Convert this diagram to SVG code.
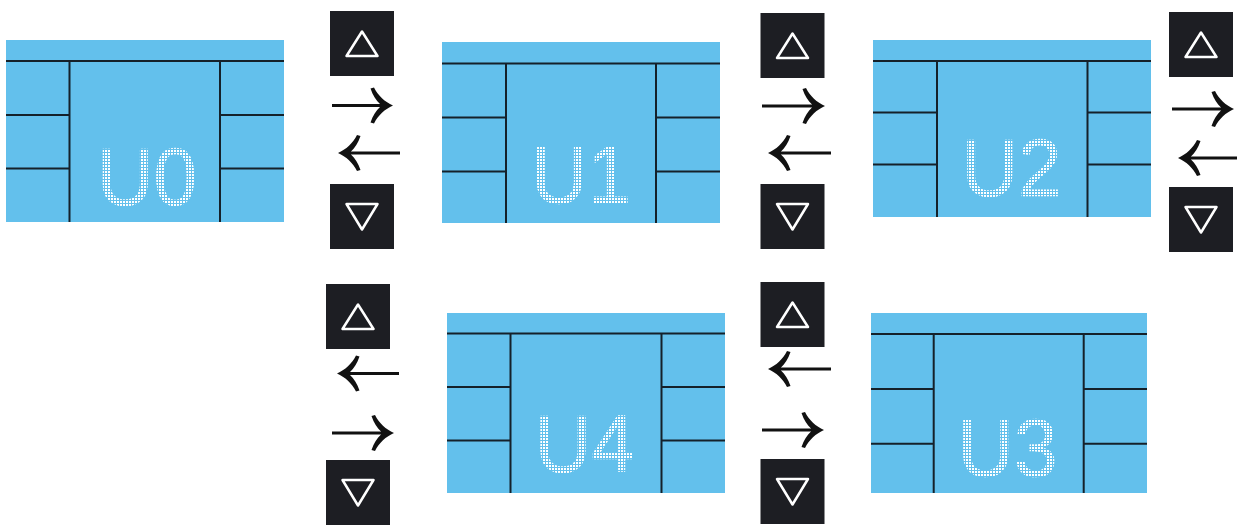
<svg xmlns="http://www.w3.org/2000/svg" xmlns:xlink="http://www.w3.org/1999/xlink" width="1237" height="527" viewBox="0 0 1237 527">
  <style>
    .panel { fill: #63C0EC; }
    .pl { stroke: #15212a; stroke-width: 2; fill: none; }
    .lbl { font-family: "Liberation Sans", Arial, sans-serif; font-size: 82px; fill: url(#dots); stroke: url(#dots); stroke-width: 0.6; text-anchor: middle; }
    .btn { fill: #1d1e23; }
    .tri { fill: none; stroke: #ffffff; stroke-width: 2.5; stroke-linejoin: round; }
    .arr { stroke: #111111; stroke-width: 3; fill: none; marker-end: url(#head); }
  </style>
  <defs>
    <pattern id="dots" x="0" y="0" width="3" height="3" patternUnits="userSpaceOnUse">
      <rect x="0" y="0" width="2" height="2" fill="#ffffff" shape-rendering="crispEdges"/>
    </pattern>
    <marker id="head" viewBox="-23 -19 25 38" refX="-4" refY="0" markerWidth="25" markerHeight="38" markerUnits="userSpaceOnUse" orient="auto">
      <path d="M1,0 C-7,-3.5 -14,-10 -18,-18 L-21.5,-17 C-19,-10 -16,-5 -12,-1.5 L-12,1.5 C-16,5 -19,10 -21.5,17 L-18,18 C-14,10 -7,3.5 1,0 Z" fill="#111111"/>
    </marker>
    <g id="btnUp">
      <rect class="btn" width="64" height="65"/>
      <path class="tri" d="M32,20.5 L16.5,45 L47.5,45 Z"/>
    </g>
    <g id="btnDown">
      <rect class="btn" width="64" height="65"/>
      <path class="tri" d="M16.5,20 L47.5,20 L32,45.5 Z"/>
    </g>
  </defs>

  <rect width="1237" height="527" fill="#ffffff"/>

  <g id="panel-U0">
    <rect class="panel" x="6" y="40" width="278" height="182"/>
    <path class="pl" d="M6,61 H284 M69.5,61 V222 M220,61 V222 M6,115 H69.5 M6,168.5 H69.5 M220,115 H284 M220,168.5 H284"/>
    <text class="lbl" x="147" y="205" textLength="100" lengthAdjust="spacingAndGlyphs">U0</text>
  </g>

  <g id="panel-U1">
    <rect class="panel" x="442" y="42" width="278" height="181"/>
    <path class="pl" d="M442,63.5 H720 M506,63.5 V223 M656,63.5 V223 M442,117.5 H506 M442,171.5 H506 M656,117.5 H720 M656,171.5 H720"/>
    <text class="lbl" x="581" y="203" textLength="100" lengthAdjust="spacingAndGlyphs">U1</text>
  </g>

  <g id="panel-U2">
    <rect class="panel" x="873" y="40" width="278" height="177"/>
    <path class="pl" d="M873,61 H1151 M937,61 V217 M1087.5,61 V217 M873,112.5 H937 M873,164.5 H937 M1087.5,112.5 H1151 M1087.5,164.5 H1151"/>
    <text class="lbl" x="1011.5" y="196" textLength="100" lengthAdjust="spacingAndGlyphs">U2</text>
  </g>

  <g id="panel-U4">
    <rect class="panel" x="447" y="313" width="278" height="180"/>
    <path class="pl" d="M447,333.5 H725 M510.5,333.5 V493 M661.5,333.5 V493 M447,387 H510.5 M447,440.5 H510.5 M661.5,387 H725 M661.5,440.5 H725"/>
    <text class="lbl" x="584.7" y="472" textLength="100" lengthAdjust="spacingAndGlyphs">U4</text>
  </g>

  <g id="panel-U3">
    <rect class="panel" x="871" y="313" width="276" height="180"/>
    <path class="pl" d="M871,334 H1147 M933.7,334 V493 M1083.7,334 V493 M871,389 H933.7 M871,443.7 H933.7 M1083.7,389 H1147 M1083.7,443.7 H1147"/>
    <text class="lbl" x="1007.4" y="476" textLength="100" lengthAdjust="spacingAndGlyphs">U3</text>
  </g>

  <g id="buttons-1">
    <use xlink:href="#btnUp" x="330" y="11"/>
    <use xlink:href="#btnDown" x="330" y="184"/>
  </g>
  <g id="buttons-2">
    <use xlink:href="#btnUp" x="760.5" y="13"/>
    <use xlink:href="#btnDown" x="760.5" y="184"/>
  </g>
  <g id="buttons-3">
    <use xlink:href="#btnUp" x="1169" y="12"/>
    <use xlink:href="#btnDown" x="1169" y="187"/>
  </g>
  <g id="buttons-4">
    <use xlink:href="#btnUp" x="326" y="284"/>
    <use xlink:href="#btnDown" x="326" y="460"/>
  </g>
  <g id="buttons-5">
    <use xlink:href="#btnUp" x="760.5" y="282"/>
    <use xlink:href="#btnDown" x="760.5" y="459"/>
  </g>

  <g id="connectors">
    <path class="arr" d="M332,105.5 H388"/>
    <path class="arr" d="M400,153 H343"/>
    <path class="arr" d="M762,106 H820"/>
    <path class="arr" d="M831,153 H773"/>
    <path class="arr" d="M1172,109 H1229"/>
    <path class="arr" d="M1237,158 H1183"/>
    <path class="arr" d="M399,373.5 H342"/>
    <path class="arr" d="M332,433 H389"/>
    <path class="arr" d="M831,369 H773"/>
    <path class="arr" d="M762,430 H819"/>
  </g>
</svg>
